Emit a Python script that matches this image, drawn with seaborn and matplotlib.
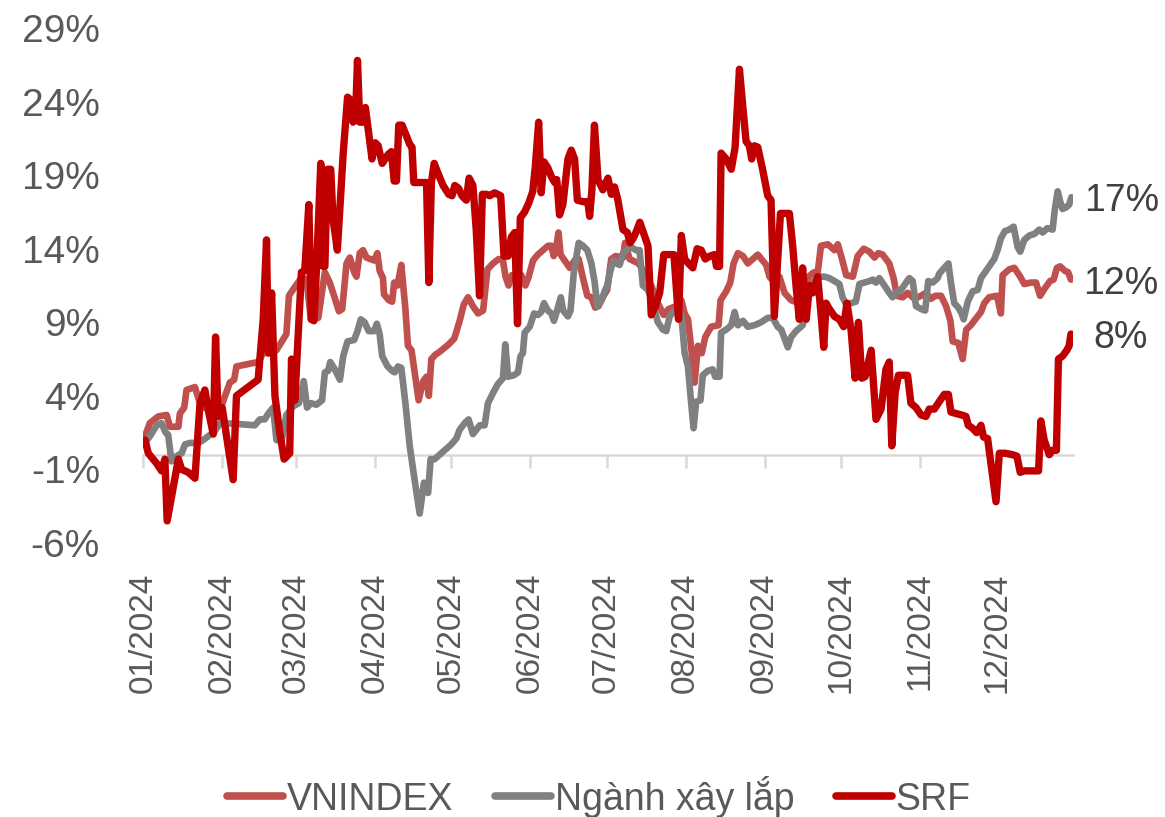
import matplotlib
matplotlib.use("Agg")
import matplotlib.pyplot as plt
import matplotlib.dates as mdates
import numpy as np
import pandas as pd
import seaborn as sns

# ---------------- data (day offset from 2024-01-01, cumulative return %) ----------------
START = "2024-01-01"

VNI_DAY = [0.8, 2.7, 6.0, 9.3, 10.6, 13.9, 14.5, 16.2, 17.1, 20.4, 22.0, 23.7, 26.3, 30.8, 34.1,
           35.8, 36.7, 45.2, 47.2, 49.2, 52.4, 56.3, 57.3, 59.6, 62.5, 64.2, 65.9, 68.8, 71.4, 73.3,
           75.0, 76.9, 78.2, 79.9, 81.2, 82.9, 83.8, 85.1, 86.4, 87.7, 90.7, 92.0, 92.9, 94.2, 94.6,
           96.5, 97.8, 98.6, 99.9, 101.4, 103.0, 104.0, 105.4, 108.2, 110.0, 111.3, 112.2, 113.2,
           114.8, 116.5, 120.0, 122.2, 124.3, 125.9, 127.6, 129.5, 131.5, 133.5, 135.2, 137.4, 139.6,
           141.3, 142.3, 143.5, 144.8, 146.9, 148.5, 150.1, 151.4, 153.1, 155.0, 157.0, 159.0, 160.3,
           161.2, 162.2, 163.1, 163.9, 165.5, 167.5, 169.4, 171.0, 172.7, 174.4, 176.0, 177.5, 178.8,
           180.8, 182.2, 183.8, 185.5, 188.4, 189.2, 191.0, 194.5, 196.9, 199.5, 202.1, 204.4, 206.3,
           209.3, 211.3, 212.6, 213.9, 215.4, 216.5, 217.8, 219.3, 220.7, 223.0, 225.9, 226.7, 228.9,
           230.5, 231.8, 233.5, 235.5, 237.4, 241.3, 244.6, 245.9, 247.8, 249.8, 251.8, 254.4, 257.6,
           259.3, 261.2, 263.3, 264.6, 266.1, 268.8, 271.4, 272.7, 274.2, 276.0, 278.6, 280.5, 282.9,
           285.1, 287.1, 288.6, 290.3, 292.9, 294.6, 295.9, 298.2, 300.1, 302.8, 305.4, 307.3, 309.3,
           311.0, 313.2, 315.2, 316.9, 317.8, 320.0, 321.7, 323.1, 324.9, 327.6, 328.9, 330.2, 332.1,
           335.2, 336.7, 337.4, 340.0, 342.0, 344.3, 345.9, 348.5, 350.5, 352.1, 353.9, 356.0, 357.4,
           358.7, 360.0, 361.8, 363.1, 364.2]
VNI_VAL = [1.25, 2.15, 2.6, 2.7, 1.9, 1.9, 2.8, 3.2, 4.4, 4.6, 3.7, 3.2, 3.1, 3.3, 4.9,
           5.1, 6.0, 6.3, 6.9, 7.5, 7.1, 8.2, 10.8, 11.4, 12.1, 11.9, 9.2, 9.3, 12.4, 11.7,
           10.8, 9.75, 9.9, 13.0, 13.4, 12.4, 12.1, 13.7, 13.9, 13.4, 13.2, 13.7, 12.5, 12.0, 10.9,
           10.5, 10.4, 11.7, 11.5, 12.9, 9.9, 7.4, 7.1, 3.7, 5.0, 5.3, 4.0, 6.5,
           6.8, 7.0, 7.5, 7.9, 9.1, 10.2, 10.7, 10.1, 9.6, 9.8, 12.6, 13.0, 13.3,
           13.2, 12.1, 11.5, 12.2, 12.2, 12.2, 11.5, 12.1, 13.2, 13.6, 13.9, 14.2, 14.2,
           13.5, 14.1, 15.1, 13.6, 13.2, 12.7, 13.2, 13.3, 12.0, 10.8, 10.7, 10.0, 10.1,
           10.8, 11.2, 13.3, 13.5, 13.4, 14.4, 13.3, 13.0, 12.4, 11.5, 10.3, 9.5, 9.9,
           10.1, 10.5, 9.6, 9.2, 6.9, 4.9, 7.4, 6.9, 8.0, 8.7, 8.8, 10.5, 11.1,
           11.7, 13.0, 13.7, 13.5, 13.0, 13.6, 12.9, 12.1, 11.7, 12.1, 11.0, 10.5, 10.3,
           10.8, 12.1, 12.4, 12.1, 14.2, 14.3, 13.9, 14.3, 13.4, 12.2, 12.1, 13.5, 14.0,
           13.8, 13.4, 13.7, 13.6, 13.0, 12.0, 10.8, 10.7, 11.0, 10.6, 10.8, 11.0, 10.6,
           10.8, 10.8, 10.1, 9.1, 7.7, 7.6, 6.5, 8.5, 8.8, 9.4, 9.7, 10.3, 10.7,
           10.8, 9.6, 12.2, 12.6, 12.7, 12.1, 11.6, 11.7, 11.7, 10.8, 11.3, 11.8, 11.9,
           12.7, 12.8, 12.5, 12.4, 11.9]

XL_DAY = [0.8, 2.7, 5.4, 7.3, 8.9, 9.9, 11.2, 13.2, 15.2, 16.5, 18.4, 21.7, 23.7, 28.2, 30.2,
          36.1, 43.9, 45.9, 47.8, 49.2, 51.1, 52.4, 54.4, 56.3, 59.0, 61.2, 63.1, 64.4, 65.9, 68.1,
          70.3, 71.4, 72.7, 73.5, 75.3, 77.3, 78.6, 80.3, 82.9, 84.2, 85.5, 87.0, 88.6, 90.7, 91.8,
          92.9, 93.9, 96.0, 97.8, 98.8, 100.1, 101.4, 103.0, 104.7, 106.7, 108.6, 110.3, 111.9, 112.9,
          114.5, 121.0, 123.0, 124.3, 126.3, 127.8, 129.5, 132.2, 134.1, 135.4, 137.4, 139.3, 141.3,
          142.2, 143.3, 145.6, 147.2, 148.2, 149.1, 149.8, 151.8, 153.5, 155.0, 156.3, 157.4, 158.9,
          160.3, 161.3, 162.2, 164.0, 164.9, 166.8, 167.8, 169.1, 171.0, 172.7, 174.4, 176.0, 177.3,
          178.3, 179.9, 181.2, 182.2, 183.3, 184.6, 185.8, 187.1, 188.4, 189.7, 191.6, 193.6, 194.9,
          196.2, 198.2, 200.1, 202.1, 204.1, 205.4, 206.7, 208.6, 211.3, 212.6, 213.9, 214.9, 216.1,
          217.1, 218.8, 219.7, 221.7, 223.6, 224.6, 226.3, 226.9, 228.9, 230.9, 232.2, 233.5, 235.5,
          237.4, 240.0, 242.6, 245.2, 247.2, 249.1, 250.5, 252.0, 253.1, 254.4, 256.3, 258.9, 260.9,
          262.9, 264.8, 267.5, 269.4, 271.4, 273.3, 274.6, 276.0, 277.9, 279.8, 281.2, 283.1, 285.1,
          286.4, 287.7, 289.0, 291.0, 292.9, 294.2, 295.5, 297.5, 299.5, 300.8, 302.1, 303.4, 305.4,
          307.0, 308.2, 310.0, 311.9, 312.5, 314.5, 316.1, 317.1, 318.4, 320.0, 321.3, 322.1, 323.7,
          325.6, 327.6, 328.9, 330.5, 332.1, 334.1, 335.4, 336.7, 338.3, 340.0, 341.7, 343.3, 344.3,
          345.9, 347.9, 349.8, 351.8, 353.1, 355.0, 357.0, 357.9, 359.0, 360.0, 360.9, 362.2, 363.5,
          364.4]
XL_VAL = [0.8, 1.25, 2.0, 2.15, 1.5, 1.35, -0.45, -0.1, 0.1, 0.7, 0.8, 0.8, 1.0, 1.6, 2.15,
          2.1, 2.0, 2.4, 2.4, 2.8, 3.2, 1.0, 0.9, 2.7, 3.3, 3.5, 5.0, 3.2, 3.5, 3.4,
          3.7, 5.6, 5.7, 6.3, 5.8, 5.1, 6.7, 7.7, 7.8, 8.4, 9.2, 9.0, 8.4, 8.4, 8.9,
          8.2, 6.7, 6.0, 5.7, 5.6, 6.0, 5.9, 3.5, 0.6, -1.8, -4.0, -1.9, -2.6, -0.3,
          -0.3, 0.7, 1.1, 1.7, 2.15, 2.4, 1.4, 2.0, 2.0, 3.5, 4.2, 4.8, 5.2,
          7.5, 5.3, 5.4, 5.6, 6.7, 6.9, 8.3, 8.7, 9.6, 9.5, 9.7, 10.3, 9.8,
          9.6, 9.1, 9.6, 10.7, 9.8, 9.4, 9.8, 12.4, 14.4, 14.2, 13.9, 13.0, 11.7,
          10.1, 10.5, 11.1, 11.5, 12.4, 13.2, 13.0, 12.9, 13.7, 13.9, 14.1, 13.9, 13.9,
          11.5, 11.2, 10.3, 9.0, 8.5, 8.4, 9.4, 9.8, 9.5, 6.9, 6.0, 4.0, 1.8,
          3.6, 3.7, 5.4, 5.7, 5.8, 5.3, 5.3, 8.3, 8.5, 8.8, 9.7, 8.8, 9.1,
          8.7, 8.8, 9.0, 9.3, 9.3, 8.7, 8.5, 7.8, 7.3, 8.0, 8.4, 8.8, 10.5,
          11.7, 12.1, 12.1, 12.0, 11.8, 11.6, 10.7, 10.2, 10.3, 10.4, 11.6, 11.7, 11.8,
          11.9, 11.7, 12.0, 11.5, 11.0, 10.7, 11.0, 11.2, 11.7, 12.0, 11.8, 10.1, 9.9,
          9.8, 11.8, 11.7, 12.0, 12.3, 12.7, 13.0, 11.7, 10.3, 10.0, 9.6, 9.2, 10.4,
          11.1, 11.2, 12.0, 12.4, 12.8, 13.3, 13.9, 14.7, 15.2, 15.3, 15.5, 14.1, 13.8,
          14.6, 14.9, 15.0, 15.3, 15.1, 15.4, 15.3, 16.7, 17.9, 17.2, 16.7, 16.8, 17.0,
          17.5]

SRF_DAY = [0.8, 2.1, 5.4, 7.3, 8.6, 9.5, 13.9, 15.2, 17.8, 20.4, 22.4, 24.3, 25.9, 27.6, 28.5,
           29.5, 31.1, 33.2, 35.4, 36.7, 45.2, 47.2, 48.5, 49.2, 50.5, 51.8, 53.7, 55.4, 57.6, 58.3,
           59.6, 62.2, 63.5, 65.1, 66.1, 67.1, 68.1, 69.8, 70.7, 71.4, 72.4, 73.7, 74.6, 76.3, 78.6,
           80.3, 81.6, 82.5, 83.4, 84.2, 85.1, 86.4, 87.3, 88.4, 89.9, 91.2, 92.3, 93.9, 96.2, 97.5,
           98.6, 99.5, 100.4, 101.7, 104.7, 105.6, 106.3, 111.3, 112.2, 113.2, 114.3, 116.1, 117.8,
           120.0, 121.3, 122.4, 123.9, 125.2, 126.9, 128.0, 129.5, 130.8, 132.1, 133.2, 134.8, 136.1,
           138.0, 140.4, 141.7, 143.3, 144.6, 145.9, 147.0, 148.1, 149.8, 151.4, 153.0, 154.0, 155.3,
           156.3, 157.4, 158.9, 160.3, 161.6, 162.4, 163.5, 164.8, 166.8, 168.1, 169.4, 170.5, 172.7,
           174.6, 175.3, 176.2, 177.2, 178.6, 180.5, 182.5, 183.8, 185.1, 186.4, 188.4, 190.1, 191.2,
           192.4, 193.7, 195.0, 196.6, 198.2, 199.5, 201.1, 202.8, 204.4, 206.3, 208.4, 210.2, 211.3,
           212.6, 214.1, 215.8, 217.5, 219.1, 220.7, 222.5, 224.3, 225.1, 226.3, 226.9, 228.9, 230.9,
           232.4, 234.1, 235.4, 236.7, 238.0, 238.9, 240.0, 241.3, 243.3, 245.2, 246.5, 247.8, 250.2,
           253.7, 255.0, 256.3, 257.6, 258.9, 260.3, 261.6, 262.9, 264.8, 266.1, 267.2, 268.1, 269.4,
           271.4, 273.3, 275.0, 276.3, 277.9, 279.5, 280.8, 282.1, 283.4, 285.8, 287.7, 289.7, 291.6,
           292.9, 293.9, 295.2, 296.5, 300.1, 301.4, 303.4, 305.4, 307.3, 308.6, 310.6, 312.5, 314.5,
           316.1, 317.1, 319.1, 321.3, 323.0, 323.9, 325.6, 327.2, 328.9, 329.9, 331.5, 333.1, 334.8,
           336.1, 338.3, 341.3, 343.0, 344.3, 345.9, 349.5, 351.5, 352.4, 353.7, 355.7, 357.0, 358.5,
           359.3, 360.9, 362.6, 363.5, 364.2]
SRF_VAL = [1.0, 0.1, -0.6, -1.1, -0.3, -4.5, -0.3, -1.0, -1.2, -1.6, 3.5, 4.4, 2.8, 1.4, 8.0,
           2.6, 3.2, 0.8, -1.7, 4.0, 5.1, 9.2, 14.6, 6.9, 11.0, 4.0, 1.5, -0.3, 0.1, 6.5,
           3.7, 12.4, 12.5, 17.0, 9.2, 9.1, 12.6, 19.8, 12.8, 12.8, 19.4, 19.4, 16.0, 13.9, 20.5,
           24.3, 24.1, 22.6, 22.8, 26.8, 22.6, 22.6, 23.6, 22.1, 20.1, 21.2, 21.0, 19.8, 20.4, 20.6,
           18.6, 18.6, 22.4, 22.4, 21.1, 20.9, 18.5, 18.5, 11.7, 18.5, 19.8, 19.0, 18.3,
           17.7, 17.6, 18.3, 18.1, 17.6, 17.3, 18.8, 18.3, 15.3, 10.8, 17.7, 17.7, 17.6,
           17.8, 17.6, 13.5, 13.5, 14.8, 15.1, 8.9, 16.1, 16.5, 17.1, 17.9, 19.6, 22.6,
           17.8, 19.9, 19.5, 18.9, 18.5, 18.7, 16.3, 17.0, 20.1, 20.7, 20.1, 17.3, 17.2,
           17.2, 16.2, 18.0, 22.4, 18.7, 18.0, 18.8, 17.7, 18.2, 17.3, 15.3, 15.1, 14.4,
           14.7, 15.2, 15.8, 15.0, 14.2, 9.5, 10.1, 11.0, 13.6, 13.6, 13.6, 9.2, 14.9,
           13.3, 13.0, 12.7, 14.0, 13.9, 13.3, 13.5, 13.6, 12.8, 12.8, 20.5, 20.1, 19.4,
           20.9, 26.2, 23.7, 21.3, 21.0, 20.1, 21.0, 20.9, 19.3, 17.6, 17.3, 9.4, 16.4,
           16.4, 14.2, 11.5, 9.2, 12.7, 9.2, 11.5, 11.0, 12.1, 9.6, 7.3, 10.3, 9.9,
           9.4, 9.2, 8.7, 10.3, 8.5, 5.2, 9.0, 5.2, 5.3, 7.1, 2.4, 3.1, 5.8,
           6.3, 0.6, 4.2, 5.4, 5.4, 3.5, 3.2, 2.7, 2.6, 3.1, 3.1, 3.6, 4.1,
           4.1, 2.9, 2.8, 2.7, 2.6, 2.0, 1.8, 1.5, 2.0, 1.2, 1.1, -1.0, -3.2,
           0.1, 0.1, 0.0, -0.1, -1.2, -1.1, -1.1, -1.1, 2.3, 1.0, 0.0, 0.3, 0.3,
           6.5, 6.7, 7.1, 7.4, 8.2]

SERIES = ["VNINDEX", "Ngành xây lắp", "SRF"]
COLORS = ["#C0504D", "#808080", "#C00000"]
END_LABELS = ["12%", "17%", "8%"]
Y_TICKS = [-6, -1, 4, 9, 14, 19, 24, 29]
Y_MIN, Y_MAX = -6, 29
MONTHS = pd.date_range("2024-01-01", "2024-12-01", freq="MS")

# ---------------- build frames ----------------
def to_frame(days, vals, name):
    d = pd.Timestamp(START) + pd.to_timedelta(np.asarray(days), unit="D")
    return pd.DataFrame({"date": d, "value": vals, "series": name})

frames = [to_frame(VNI_DAY, VNI_VAL, SERIES[0]),
          to_frame(XL_DAY, XL_VAL, SERIES[1]),
          to_frame(SRF_DAY, SRF_VAL, SERIES[2])]

sns.set_theme(style="white")
plt.rcParams["font.family"] = ["Liberation Sans", "DejaVu Sans"]

TXT = "#595959"
fig = plt.figure(figsize=(11.65, 8.17), dpi=100)
ax = fig.add_axes([0.1227, 0.3354, 0.7983, 0.6303])

widths = [4.8, 4.8, 5.3]
for df, c, lw in zip(frames, COLORS, widths):
    sns.lineplot(data=df, x="date", y="value", color=c, linewidth=lw,
                 estimator=None, sort=False, ax=ax, label=df["series"].iloc[0])
for ln in ax.get_lines():
    ln.set_solid_joinstyle("round")
    ln.set_solid_capstyle("round")

ax.set_xlim(pd.Timestamp("2024-01-01"), pd.Timestamp("2024-12-31"))
ax.set_ylim(Y_MIN, Y_MAX)
ax.set_xlabel("")
ax.set_ylabel("")
for s in ax.spines.values():
    s.set_visible(False)
ax.grid(False)

ax.set_yticks(Y_TICKS)
ax.set_yticklabels([f"{v}%" for v in Y_TICKS])
ax.set_xticks(MONTHS)
ax.set_xticklabels([m.strftime("%m/%Y") for m in MONTHS], rotation=90, ha="center", va="top")
ax.tick_params(axis="y", length=0, pad=31, labelsize=28, labelcolor=TXT)
ax.tick_params(axis="x", length=0, pad=21, labelsize=24, labelcolor=TXT)

# zero line with month ticks
zero_loc = (0 - Y_MIN) / (Y_MAX - Y_MIN)
sec = ax.secondary_xaxis(zero_loc)
sec.set_xticks(mdates.date2num(MONTHS))
sec.tick_params(axis="x", direction="out", length=9, width=1.8, color="#D9D9D9",
                labelbottom=False, labeltop=False)
for k, s in sec.spines.items():
    s.set_visible(k == "bottom")
sec.spines["bottom"].set_color("#D9D9D9")
sec.spines["bottom"].set_linewidth(1.8)

# end labels
for df, lab in zip(frames, END_LABELS):
    ax.annotate(lab, xy=(df["date"].iloc[-1], df["value"].iloc[-1]), xytext=(36, -3),
                textcoords="offset points", ha="center", va="center",
                fontsize=27, color="#404040", annotation_clip=False)

handles, labels = ax.get_legend_handles_labels()
ax.get_legend().remove()
leg = fig.legend(handles, labels, loc="center", bbox_to_anchor=(0.514, 0.025), ncol=3,
                 frameon=False, fontsize=27, handlelength=1.5, handletextpad=0.1,
                 columnspacing=1.1, labelcolor=TXT)
for h in leg.get_lines():
    h.set_linewidth(5.5)
    h.set_solid_capstyle("round")

fig.savefig("out.png", dpi=100, facecolor="white")
